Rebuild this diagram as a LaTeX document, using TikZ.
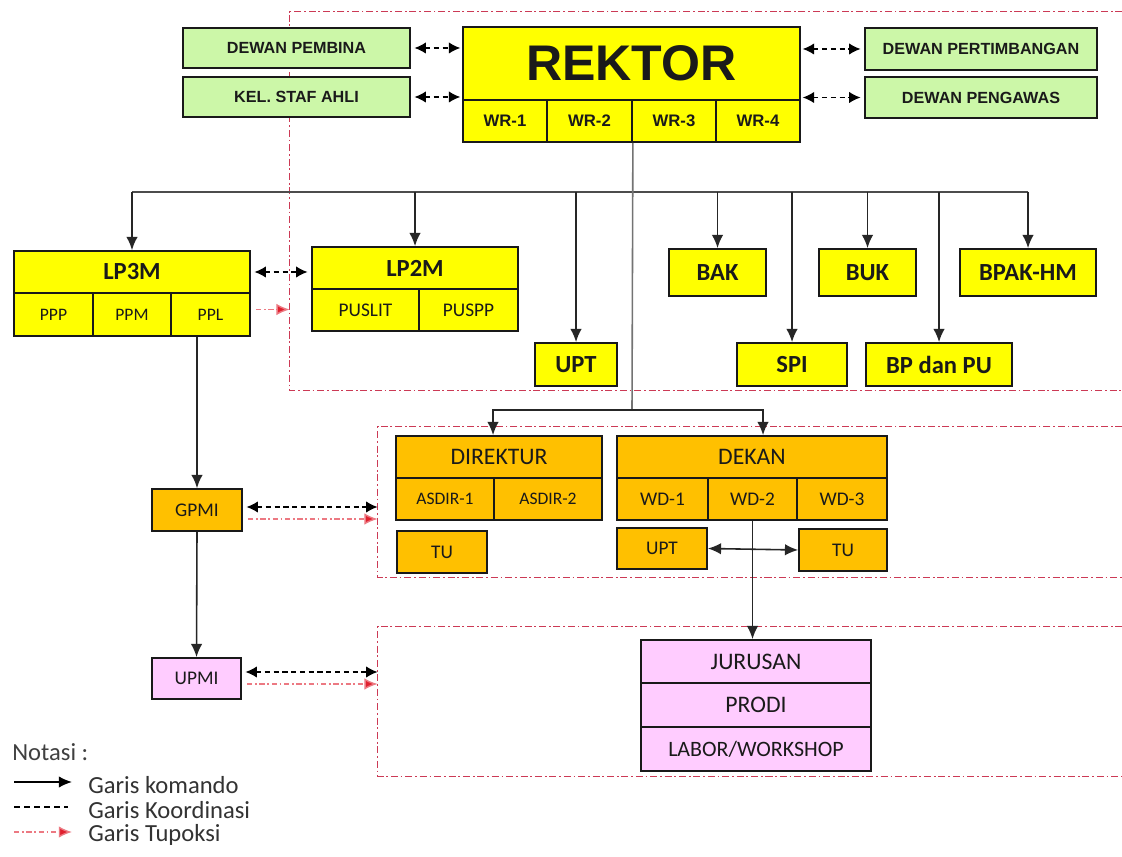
\documentclass[tikz,border=0pt]{standalone}
\usepackage{fontspec}
\setmainfont{Carlito}
\newfontfamily\arialfont{Liberation Sans}
\usetikzlibrary{fit,arrows.meta}
\definecolor{yel}{HTML}{FFFF00}
\definecolor{grn}{HTML}{CCF7A8}
\definecolor{org}{HTML}{FFC000}
\definecolor{pnk}{HTML}{FFCCFF}
\definecolor{regred}{HTML}{CC3A55}
\definecolor{tupred}{HTML}{E0202E}
\definecolor{txt}{HTML}{1A1A1A}
\begin{document}
\begin{tikzpicture}[x=0.02cm,y=-0.02cm,
  box/.style={draw=black!90, line width=1pt, inner sep=0pt},
  ybox/.style={box, fill=yel},
  gbox/.style={box, fill=grn},
  obox/.style={box, fill=org},
  pbox/.style={box, fill=pnk},
  gf/.style={text=txt, font=\arialfont\bfseries\fontsize{9.2}{10}\selectfont},
  ar/.style={text=txt, font=\arialfont\bfseries\fontsize{9.5}{11}\selectfont},
  cb/.style={text=txt, font=\bfseries\fontsize{14}{16}\selectfont},
  cr/.style={text=txt, font=\fontsize{#1}{#1}\selectfont},
  region/.style={draw=regred, line width=0.8pt,
    dash pattern=on 4pt off 1.6pt on 1pt off 1.6pt},
  kom/.style={line width=0.9pt, draw=black!85, -{Latex[length=7.5pt,width=6.5pt]}},
  komline/.style={line width=0.9pt, draw=black!70},
  koord/.style={line width=1pt, draw=black, dash pattern=on 3pt off 2pt,
    {Latex[length=6.5pt,width=6.5pt]}-{Latex[length=6.5pt,width=6.5pt]}},
  tup/.style={line width=0.8pt, draw=tupred!60, dash pattern=on 3pt off 1.5pt on 1pt off 1.5pt,
    -{Latex[length=7.5pt,width=6.5pt,fill=tupred]}}
]
\fill[white] (0,0) rectangle (1122,857);
\useasboundingbox (0,0) rectangle (1122,857);

% regions (open to the right)
\node[inner sep=0pt, fit={(290,12) (1122,390)}] (reg1) {};
\node[inner sep=0pt, fit={(378,427) (1122,577)}] (reg2) {};
\node[inner sep=0pt, fit={(378,627) (1122,776)}] (reg3) {};
\foreach \r in {reg1,reg2,reg3}
  \draw[region] (\r.north east) -- (\r.north west) -- (\r.south west) -- (\r.south east);

% top row
\node[gbox, fit={(183,28) (410,68)}, label={[gf]center:DEWAN PEMBINA}] (pembina) {};
\node[gbox, fit={(183,77) (410,117)}, label={[gf]center:KEL. STAF AHLI}] (staf) {};
\node[ybox, fit={(463,27) (800,100)}, label={[text=txt, font=\arialfont\bfseries\fontsize{28.5}{30}\selectfont]center:REKTOR}] (rektor) {};
\node[ybox, fit={(463,100) (547,142)}, label={[ar]center:WR-1}] (wr1) {};
\node[ybox, fit={(547,100) (632,142)}, label={[ar]center:WR-2}] (wr2) {};
\node[ybox, fit={(632,100) (716,142)}, label={[ar]center:WR-3}] (wr3) {};
\node[ybox, fit={(716,100) (800,142)}, label={[ar]center:WR-4}] (wr4) {};
\node[gbox, fit={(865,28) (1097,70)}, label={[gf]center:DEWAN PERTIMBANGAN}] (pertimb) {};
\node[gbox, fit={(865,77) (1097,118)}, label={[gf]center:DEWAN PENGAWAS}] (pengawas) {};

\draw[koord, shorten <=2pt, shorten >=1pt] (pembina.east) -- (pembina.east -| rektor.west);
\draw[koord, shorten <=2pt, shorten >=1pt] (staf.east) -- (staf.east -| rektor.west);
\draw[koord, shorten <=1pt, shorten >=2pt] (rektor.east |- pertimb.west) -- (pertimb.west);
\draw[koord, shorten <=1pt, shorten >=2pt] (rektor.east |- pengawas.west) -- (pengawas.west);

% second row
\node[ybox, fit={(14,251) (250,293)}, label={[cb]center:LP3M}] (lp3m) {};
\node[ybox, fit={(14,293) (93,336)}, label={[cr=10]center:PPP}] (ppp) {};
\node[ybox, fit={(93,293) (171,336)}, label={[cr=10]center:PPM}] (ppm) {};
\node[ybox, fit={(171,293) (250,336)}, label={[cr=10]center:PPL}] (ppl) {};
\node[ybox, fit={(312,247) (518,289)}, label={[cb]center:LP2M}] (lp2m) {};
\node[ybox, fit={(312,289) (419,331)}, label={[cr=11]center:PUSLIT}] (puslit) {};
\node[ybox, fit={(419,289) (518,331)}, label={[cr=11]center:PUSPP}] (puspp) {};
\node[ybox, fit={(669,249) (766,296)}, label={[cb]center:BAK}] (bak) {};
\node[ybox, fit={(819,249) (916,296)}, label={[cb]center:BUK}] (buk) {};
\node[ybox, fit={(960,249) (1096,296)}, label={[cb]center:BPAK-HM}] (bpak) {};
\node[ybox, fit={(535,343) (617,386)}, label={[cb]center:UPT}] (upt) {};
\node[ybox, fit={(737,343) (847,386)}, label={[cb]center:SPI}] (spi) {};
\node[ybox, fit={(866,343) (1012,386)}, label={[cb]center:BP dan PU}] (bpdu) {};

\draw[koord, shorten <=2pt, shorten >=2pt] (lp3m.east) -- (lp3m.east -| lp2m.west);
\draw[tup, shorten <=3pt] ([yshift=0.1cm]ppl.east) -- ([yshift=0.1cm]ppl.east -| reg1.west);

% bus from rektor
\coordinate (bus) at (0,192);
\coordinate (split) at (632,410);
\draw[komline] (lp3m.north |- bus) -- (bpak.north |- bus);
\draw[line width=0.9pt, draw=black!55] (wr2.south east) -- (split);
\foreach \n in {lp3m,lp2m,upt,bak,spi,buk,bpdu,bpak}
  \draw[kom] (\n.north |- bus) -- (\n.north);

% middle row
\node[obox, fit={(396,436) (602,478)}, label={[cr=13.5]center:DIREKTUR}] (direktur) {};
\node[obox, fit={(396,478) (494,520)}, label={[cr=10]center:ASDIR-1}] (asdir1) {};
\node[obox, fit={(494,478) (602,520)}, label={[cr=10]center:ASDIR-2}] (asdir2) {};
\node[obox, fit={(397,531) (487,573)}, label={[cr=11]center:TU}] (tu1) {};
\node[obox, fit={(617,436) (887,478)}, label={[cr=13.5]center:DEKAN}] (dekan) {};
\node[obox, fit={(617,478) (708,520)}, label={[cr=11]center:WD-1}] (wd1) {};
\node[obox, fit={(708,478) (797,520)}, label={[cr=11]center:WD-2}] (wd2) {};
\node[obox, fit={(797,478) (887,520)}, label={[cr=11]center:WD-3}] (wd3) {};
\node[obox, fit={(617,528) (707,569)}, label={[cr=11]center:UPT}] (upt2) {};
\node[obox, fit={(799,529) (887,571)}, label={[cr=11]center:TU}] (tu2) {};
\node[obox, fit={(152,489) (242,531)}, label={[cr=11]center:GPMI}] (gpmi) {};

\draw[kom] (split) -| ([xshift=-0.12cm]direktur.north);
\draw[kom] (split) -| ([xshift=0.22cm]dekan.north);
\draw[kom, {Latex[length=7.5pt,width=6.5pt]}-{Latex[length=7.5pt,width=6.5pt]}] (upt2.east) -- (tu2.west);

\draw[kom] (ppl.south -| gpmi.north) -- (gpmi.north);
\draw[koord, shorten <=2pt] ([yshift=0.06cm]gpmi.east) -- ([yshift=0.06cm]gpmi.east -| reg2.west);
\draw[tup, shorten <=3pt] ([yshift=-0.18cm]gpmi.east) -- ([yshift=-0.18cm]gpmi.east -| reg2.west);

% bottom row
\node[pbox, fit={(152,658) (241,699)}, label={[cr=11]center:UPMI}] (upmi) {};
\node[pbox, fit={(641,640) (871,683)}, label={[cr=13.5]center:JURUSAN}] (jurusan) {};
\node[pbox, fit={(641,683) (871,727)}, label={[cr=13.5]center:PRODI}] (prodi) {};
\node[pbox, fit={(641,727) (871,771)}, label={[cr=12.5]center:LABOR/WORKSHOP}] (labor) {};

\draw[kom] (gpmi.south) -- (upmi.north);
\draw[kom] (wd2.south) -- (wd2.south |- jurusan.north);
\draw[koord, shorten <=2pt] ([yshift=0.13cm]upmi.east) -- ([yshift=0.13cm]upmi.east -| reg3.west);
\draw[tup, shorten <=3pt] ([yshift=-0.11cm]upmi.east) -- ([yshift=-0.11cm]upmi.east -| reg3.west);

% legend
\node[anchor=west, inner sep=0pt, text=black!75, font=\fontsize{14}{16}\selectfont] (notasi) at (12,752) {Notasi :};
\coordinate (l1a) at (14,782); \coordinate (l1b) at (72,782);
\coordinate (l2a) at (14,807); \coordinate (l2b) at (68,807);
\coordinate (l3a) at (14,832); \coordinate (l3b) at (72,832);
\draw[kom, draw=black] (l1a) -- (l1b);
\draw[line width=1pt, dash pattern=on 3.5pt off 2.2pt] (l2a) -- (l2b);
\draw[tup] (l3a) -- (l3b);
\node[anchor=west, inner sep=0pt, text=black!80, font=\fontsize{14}{16}\selectfont] (g1) at (88,785) {Garis komando};
\node[anchor=west, inner sep=0pt, text=black!80, font=\fontsize{14}{16}\selectfont] (g2) at (88,810) {Garis Koordinasi};
\node[anchor=west, inner sep=0pt, text=black!80, font=\fontsize{14}{16}\selectfont] (g3) at (88,835) {Garis Tupoksi};
\end{tikzpicture}
\end{document}
